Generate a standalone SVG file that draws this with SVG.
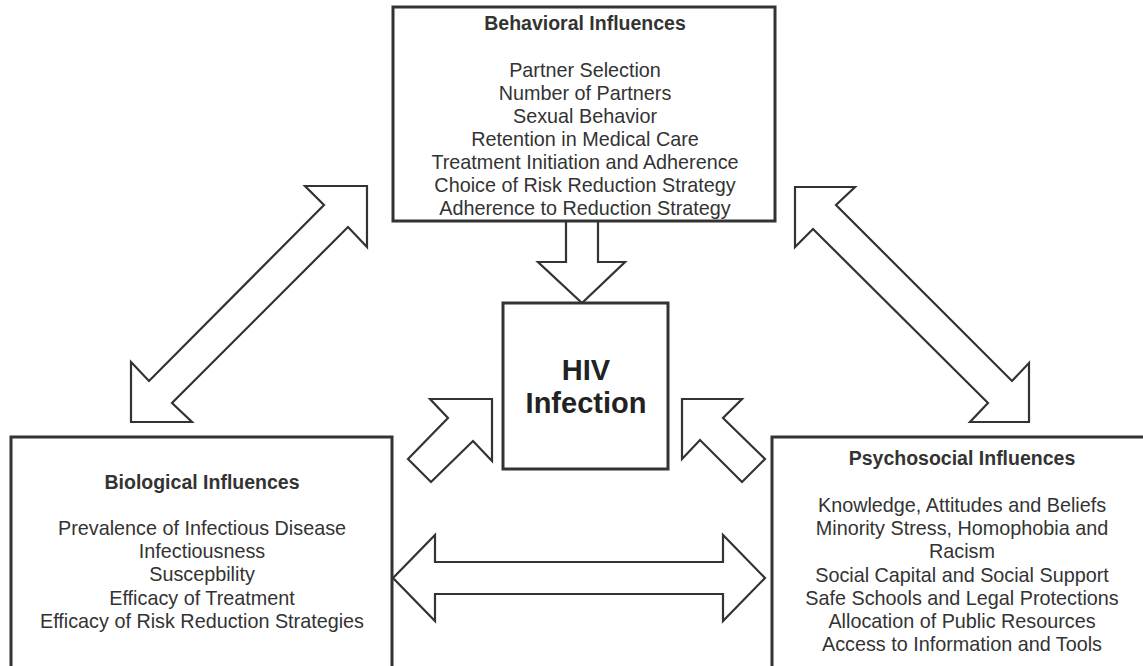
<svg xmlns="http://www.w3.org/2000/svg" width="1143" height="666" viewBox="0 0 1143 666">
<style>
.box{fill:#fff;stroke:#333;stroke-width:3}
.arr{fill:#fff;stroke:#333;stroke-width:2.2;stroke-linejoin:miter}
text{font-family:"Liberation Sans",Arial,sans-serif;fill:#333;text-anchor:middle}
.t{font-size:19.5px;font-weight:bold}
.i{font-size:19.8px}
.hiv{font-size:29px;font-weight:bold;fill:#222}
</style>
<rect width="1143" height="666" fill="#fff"/>
<g id="connectors">
<path class="arr" d="M566,221 V262 H538 L582,303 L625,262 H598 V221"/>
<polygon class="arr" points="131,362 149,381 324,205 305,186 367,186 367,247 348,227 172,403 192,422 131,422"/>
<polygon class="arr" points="795,187 855,187 836,205 1012,381 1029,363 1029,422 970,422 988,403 813,229 795,247"/>
<polygon class="arr" points="430,399 492,399 492,461 473,441 431,482 408,459 448,418"/>
<polygon class="arr" points="682,399 742,399 723,418 765,459 742,482 700,440 682,459"/>
<polygon class="arr" points="393,578 435,535 435,562 723,562 723,535 765,578 723,621 723,594 435,594 435,621"/>
</g>
<g id="behavioral">
<rect class="box" x="393" y="7" width="382" height="214"/>
<text class="t" x="585" y="30">Behavioral Influences</text>
<text class="i" x="585" y="77">Partner Selection</text>
<text class="i" x="585" y="100">Number of Partners</text>
<text class="i" x="585" y="123">Sexual Behavior</text>
<text class="i" x="585" y="146">Retention in Medical Care</text>
<text class="i" x="585" y="169">Treatment Initiation and Adherence</text>
<text class="i" x="585" y="192">Choice of Risk Reduction Strategy</text>
<text class="i" x="585" y="215">Adherence to Reduction Strategy</text>
</g>
<g id="hiv">
<rect class="box" x="503" y="303" width="165" height="166"/>
<text class="hiv" x="586" y="380">HIV</text>
<text class="hiv" x="586" y="413">Infection</text>
</g>
<g id="biological">
<rect class="box" x="11" y="437" width="381" height="250"/>
<text class="t" x="202" y="489">Biological Influences</text>
<text class="i" x="202" y="535">Prevalence of Infectious Disease</text>
<text class="i" x="202" y="558">Infectiousness</text>
<text class="i" x="202" y="581">Suscepbility</text>
<text class="i" x="202" y="605">Efficacy of Treatment</text>
<text class="i" x="202" y="628">Efficacy of Risk Reduction Strategies</text>
</g>
<g id="psychosocial">
<rect class="box" x="772" y="437" width="380" height="250"/>
<text class="t" x="962" y="465">Psychosocial Influences</text>
<text class="i" x="962" y="512">Knowledge, Attitudes and Beliefs</text>
<text class="i" x="962" y="535">Minority Stress, Homophobia and</text>
<text class="i" x="962" y="558">Racism</text>
<text class="i" x="962" y="582">Social Capital and Social Support</text>
<text class="i" x="962" y="605">Safe Schools and Legal Protections</text>
<text class="i" x="962" y="628">Allocation of Public Resources</text>
<text class="i" x="962" y="651">Access to Information and Tools</text>
</g>
</svg>
